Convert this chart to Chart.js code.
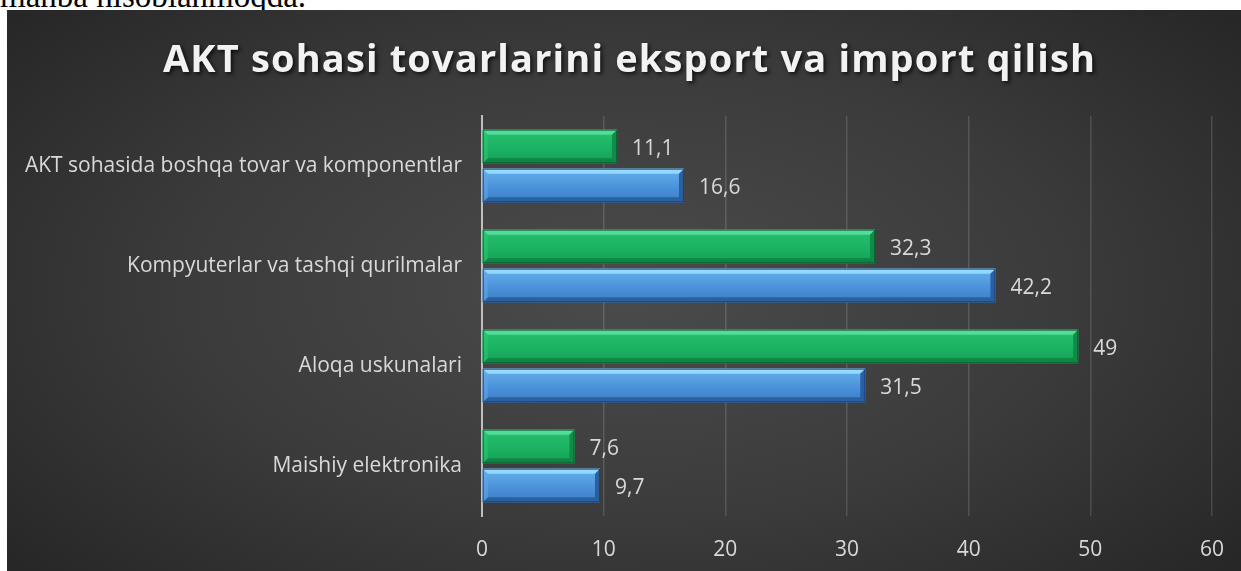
<!DOCTYPE html>
<html>
<head>
<meta charset="utf-8">
<script src="https://cdn.jsdelivr.net/npm/chart.js@4.4.1/dist/chart.umd.min.js"></script>
<style>
  html, body { margin: 0; padding: 0; background: #ffffff; width: 1241px; height: 571px; overflow: hidden; }
  #topText { position: absolute; left: 0; top: -22px; font-family: "Liberation Serif", "DejaVu Serif", serif; font-size: 33px; color: #000; white-space: nowrap; line-height: 36px; }
  #wrap { position: absolute; left: 7px; top: 10px; width: 1234px; height: 561px;
    background: radial-gradient(ellipse 65% 75% at 50% 50%, #4b4b4b 0%, #3b3b3b 55%, #272727 100%); }
  canvas { display: block; }
</style>
</head>
<body>
<div id="topText">manba hisoblanmoqda.</div>
<div id="wrap"><canvas id="c" width="1234" height="561"></canvas></div>
<script>
const TITLE = "AKT sohasi tovarlarini eksport va import qilish";
const categories = [
  "AKT sohasida boshqa tovar va komponentlar",
  "Kompyuterlar va tashqi qurilmalar",
  "Aloqa uskunalari",
  "Maishiy elektronika"
];
const greenValues = [11.1, 32.3, 49, 7.6];
const blueValues = [16.6, 42.2, 31.5, 9.7];
const xTicks = [0, 10, 20, 30, 40, 50, 60];

const LABEL_FONT = "'Open Sans', 'Noto Sans', sans-serif";
const FONT_SIZE = 21;

const bevelPlugin = {
  id: 'bevel',
  afterDatasetsDraw(chart) {
    const ctx = chart.ctx;
    chart.data.datasets.forEach((ds, di) => {
      const meta = chart.getDatasetMeta(di);
      const pal = ds.bevel;
      meta.data.forEach((bar) => {
        const p = bar.getProps(['x', 'y', 'base', 'height'], true);
        const l = p.base, r = p.x, t = p.y - p.height / 2, b = p.y + p.height / 2;
        const s = 5;
        ctx.save();
        const g = ctx.createLinearGradient(0, t, 0, b);
        pal.grad.forEach(([o, c]) => g.addColorStop(o, c));
        ctx.fillStyle = g;
        ctx.fillRect(l, t, r - l, b - t);
        ctx.fillStyle = pal.top;
        ctx.beginPath(); ctx.moveTo(l, t); ctx.lineTo(r, t); ctx.lineTo(r - s, t + s); ctx.lineTo(l + s, t + s); ctx.closePath(); ctx.fill();
        ctx.fillStyle = pal.bottom;
        ctx.beginPath(); ctx.moveTo(l, b); ctx.lineTo(r, b); ctx.lineTo(r - s, b - s); ctx.lineTo(l + s, b - s); ctx.closePath(); ctx.fill();
        ctx.fillStyle = pal.right;
        ctx.beginPath(); ctx.moveTo(r, t); ctx.lineTo(r, b); ctx.lineTo(r - s, b - s); ctx.lineTo(r - s, t + s); ctx.closePath(); ctx.fill();
        ctx.fillStyle = pal.left;
        ctx.beginPath(); ctx.moveTo(l, t); ctx.lineTo(l, b); ctx.lineTo(l + s, b - s); ctx.lineTo(l + s, t + s); ctx.closePath(); ctx.fill();
        ctx.strokeStyle = pal.edge; ctx.lineWidth = 1;
        ctx.strokeRect(l + 0.5, t + 0.5, r - l - 1, b - t - 1);
        ctx.restore();
      });
    });
  }
};

const labelPlugin = {
  id: 'valueLabels',
  afterDatasetsDraw(chart) {
    const ctx = chart.ctx;
    ctx.save();
    ctx.font = FONT_SIZE + "px " + LABEL_FONT;
    ctx.fillStyle = '#d9d9d9';
    ctx.textAlign = 'left';
    ctx.textBaseline = 'middle';
    chart.data.datasets.forEach((ds, di) => {
      const meta = chart.getDatasetMeta(di);
      meta.data.forEach((bar, i) => {
        const txt = String(ds.data[i]).replace('.', ',');
        ctx.fillText(txt, bar.x + 15, bar.y + 3);
      });
    });
    ctx.restore();
  }
};

const titlePlugin = {
  id: 'spacedTitle',
  afterDraw(chart) {
    const ctx = chart.ctx;
    ctx.save();
    ctx.font = "bold 38px 'Open Sans', sans-serif";
    ctx.letterSpacing = '0px';
    const w0 = ctx.measureText(TITLE).width;
    const target = 932;
    const sp = (target - w0) / (TITLE.length - 1);
    ctx.letterSpacing = sp + 'px';
    ctx.textAlign = 'left';
    ctx.textBaseline = 'alphabetic';
    ctx.shadowColor = 'rgba(0,0,0,0.75)';
    ctx.shadowBlur = 4;
    ctx.shadowOffsetX = 2;
    ctx.shadowOffsetY = 2;
    ctx.fillStyle = '#f2f2f2';
    ctx.fillText(TITLE, 156, 62);
    ctx.restore();
  }
};

new Chart(document.getElementById('c'), {
  type: 'bar',
  data: {
    labels: categories,
    datasets: [
      {
        data: greenValues,
        backgroundColor: '#1fb360',
        borderWidth: 0,
        categoryPercentage: 0.78,
        barPercentage: 0.86,
        bevel: {
          grad: [[0, '#3fcf88'], [0.15, '#24bd6c'], [0.6, '#1bb062'], [1, '#12a055']],
          top: 'rgba(90,225,160,0.85)', bottom: 'rgba(15,130,65,0.9)', right: 'rgba(15,135,68,0.9)', left: 'rgba(40,200,115,0.6)', edge: 'rgba(10,90,45,0.8)'
        }
      },
      {
        data: blueValues,
        backgroundColor: '#4a8fda',
        borderWidth: 0,
        categoryPercentage: 0.78,
        barPercentage: 0.86,
        bevel: {
          grad: [[0, '#a2e4ff'], [0.15, '#5ea8e8'], [0.6, '#4a90d8'], [1, '#3b7dc3']],
          top: 'rgba(150,220,255,0.9)', bottom: 'rgba(40,92,155,0.9)', right: 'rgba(38,90,155,0.9)', left: 'rgba(100,165,230,0.6)', edge: 'rgba(25,60,110,0.8)'
        }
      }
    ]
  },
  options: {
    indexAxis: 'y',
    responsive: false,
    animation: false,
    layout: { padding: { top: 106, right: 29, left: 0, bottom: 0 } },
    plugins: { legend: { display: false }, tooltip: { enabled: false }, title: { display: false } },
    scales: {
      x: {
        min: 0, max: 60,
        afterBuildTicks(scale) { scale.ticks = xTicks.map(v => ({ value: v })); },
        afterFit(scale) { scale.height = 55; scale.paddingRight = 0; scale.paddingLeft = 0; },
        grid: {
          color: (c) => c.index === 0 ? 'rgba(0,0,0,0)' : 'rgba(255,255,255,0.14)',
          lineWidth: 1.5,
          drawTicks: false
        },
        border: { display: false },
        ticks: { color: '#d9d9d9', padding: 21, font: { size: FONT_SIZE, family: LABEL_FONT } }
      },
      y: {
        afterFit(scale) { scale.width = 475; scale.paddingTop = 0; scale.paddingBottom = 0; },
        grid: { display: false, drawTicks: false },
        border: { display: true, color: '#bfbfbf', width: 2 },
        ticks: { color: '#d9d9d9', padding: 20, font: { size: FONT_SIZE, family: LABEL_FONT } }
      }
    }
  },
  plugins: [bevelPlugin, labelPlugin, titlePlugin]
});
</script>
</body>
</html>
